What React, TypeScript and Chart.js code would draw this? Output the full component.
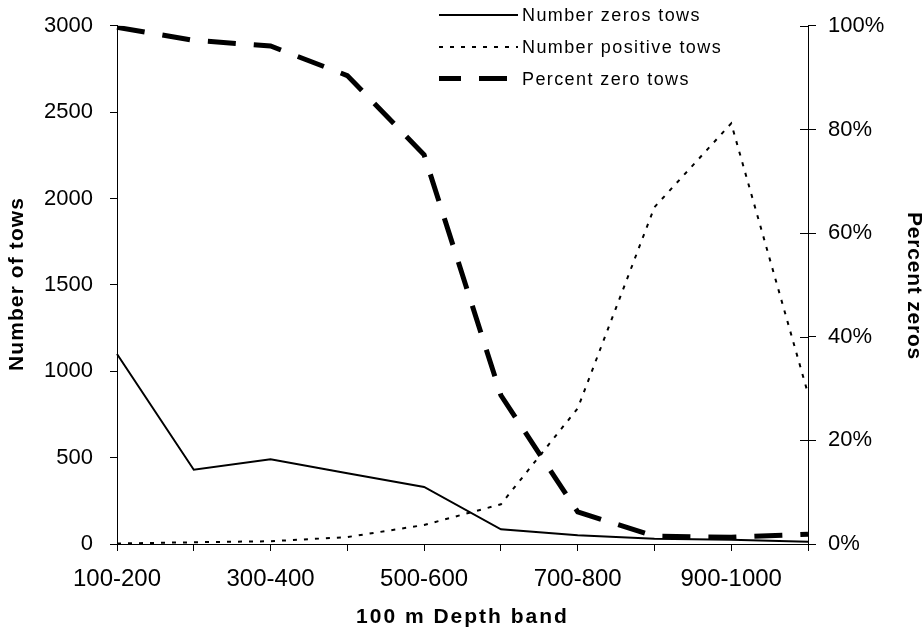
import React, { useEffect, useRef } from "react";
import { Chart, registerables } from "chart.js";

Chart.register(...registerables);

const categories = [
  "100-200", "200-300", "300-400", "400-500", "500-600",
  "600-700", "700-800", "800-900", "900-1000", "1000-1100",
];
const zeroTows = [1100, 430, 490, 410, 330, 85, 50, 30, 25, 13];
const positiveTows = [3, 10, 16, 40, 110, 230, 785, 1950, 2435, 870];
const percentZero = [99.7, 97.2, 96.1, 90.4, 75.1, 28.7, 6.2, 1.5, 1.3, 1.9];
const seriesNames = ["Number zeros tows", "Number positive tows", "Percent zero tows"];
const xTitle = "100 m Depth band";
const yTitle = "Number of tows";
const y1Title = "Percent zeros";

const FONT = "'Liberation Sans', Arial, sans-serif";

const textPlugin = {
  id: "customText",
  afterDraw(chart: any) {
    const ctx = chart.ctx;
    const ca = chart.chartArea;
    // legend
    const rows = [16, 48, 80];
    ctx.save();
    chart.data.datasets.forEach((ds: any, i: number) => {
      const y = rows[i] - (i === 2 ? 1.5 : 1);
      ctx.beginPath();
      ctx.strokeStyle = ds.borderColor;
      ctx.lineWidth = ds.borderWidth;
      ctx.setLineDash(ds.borderDash || []);
      ctx.lineDashOffset = i === 2 ? 6 : 0;
      ctx.moveTo(439, y);
      ctx.lineTo(518, y);
      ctx.stroke();
    });
    ctx.setLineDash([]);
    ctx.fillStyle = "#000";
    (ctx as any).letterSpacing = "1.4px";
    ctx.font = `18px ${FONT}`;
    ctx.textBaseline = "middle";
    ctx.textAlign = "left";
    chart.data.datasets.forEach((ds: any, i: number) => {
      ctx.fillText(ds.label, 522, rows[i]);
    });
    // axis titles
    ctx.font = `bold 21px ${FONT}`;
    ctx.textAlign = "center";
    (ctx as any).letterSpacing = "2px";
    ctx.fillText(xTitle, (ca.left + ca.right) / 2, 617);
    (ctx as any).letterSpacing = "1.1px";
    ctx.save();
    ctx.translate(17, 284);
    ctx.rotate(-Math.PI / 2);
    ctx.fillText(yTitle, 0, 0);
    ctx.restore();
    (ctx as any).letterSpacing = "0.8px";
    ctx.save();
    ctx.translate(914, 286);
    ctx.rotate(Math.PI / 2);
    ctx.fillText(y1Title, 0, 0);
    ctx.restore();
    ctx.restore();

    // inner ticks on right axis
    const s = chart.scales.y1;
    ctx.save();
    ctx.strokeStyle = "#000";
    ctx.lineWidth = 1;
    s.ticks.forEach((t: any) => {
      const yy = Math.round(s.getPixelForValue(t.value)) + 0.5;
      ctx.beginPath();
      ctx.moveTo(ca.right - 8, yy);
      ctx.lineTo(ca.right, yy);
      ctx.stroke();
    });
    ctx.restore();
  },
};

export default function App() {
  const ref = useRef<HTMLCanvasElement>(null);

  useEffect(() => {
    document.body.style.margin = "0";
    const chart = new Chart(ref.current!, {
      type: "line",
      data: {
        labels: categories,
        datasets: [
          {
            label: seriesNames[0],
            data: zeroTows,
            yAxisID: "y",
            borderColor: "#000",
            borderWidth: 2,
            pointRadius: 0,
            tension: 0,
          },
          {
            label: seriesNames[1],
            data: positiveTows,
            yAxisID: "y",
            borderColor: "#000",
            borderWidth: 2,
            borderDash: [4, 7],
            pointRadius: 0,
            tension: 0,
          },
          {
            label: seriesNames[2],
            data: percentZero,
            yAxisID: "y1",
            borderColor: "#000",
            borderWidth: 5,
            borderDash: [28, 18],
            pointRadius: 0,
            tension: 0,
          },
        ],
      },
      options: {
        animation: false,
        responsive: false,
        layout: { padding: { top: 25, left: 0, right: 0, bottom: 0 } },
        plugins: {
          legend: { display: false },
          tooltip: { enabled: false },
          title: { display: false },
        },
        scales: {
          x: {
            type: "category",
            offset: false,
            afterFit: (s: any) => { s.height = 88; },
            grid: {
              display: true,
              drawOnChartArea: false,
              drawTicks: true,
              tickLength: 7,
              color: "#000",
            },
            border: { display: true, color: "#000", width: 1 },
            ticks: {
              autoSkip: false,
              maxRotation: 0,
              color: "#000",
              padding: 14,
              font: { family: FONT, size: 24 },
              callback: (_v: any, i: number) => (i % 2 === 0 ? categories[i] : ""),
            },
            title: { display: false },
          },
          y: {
            position: "left",
            min: 0,
            max: 3000,
            afterFit: (s: any) => { s.width = 117; },
            grid: {
              display: true,
              drawOnChartArea: false,
              drawTicks: true,
              tickLength: 7,
              color: "#000",
            },
            border: { display: true, color: "#000", width: 1 },
            ticks: {
              stepSize: 500,
              color: "#000",
              padding: 17,
              font: { family: FONT, size: 22, lineHeight: 0.8 },
              callback: (v: any) => String(v),
            },
            title: { display: false },
          },
          y1: {
            position: "right",
            min: 0,
            max: 100,
            afterFit: (s: any) => { s.width = 116; },
            grid: {
              display: true,
              drawOnChartArea: false,
              drawTicks: true,
              tickLength: 8,
              color: "#000",
            },
            border: { display: true, color: "#000", width: 1 },
            ticks: {
              stepSize: 20,
              color: "#000",
              padding: 12,
              font: { family: FONT, size: 22, lineHeight: 0.8 },
              callback: (v: any) => `${v}%`,
            },
            title: { display: false },
          },
        },
      },
      plugins: [textPlugin],
    } as any);
    return () => chart.destroy();
  }, []);

  return (
    <div style={{ width: 924, height: 632 }}>
      <canvas ref={ref} width={924} height={632} style={{ display: "block" }} />
    </div>
  );
}
